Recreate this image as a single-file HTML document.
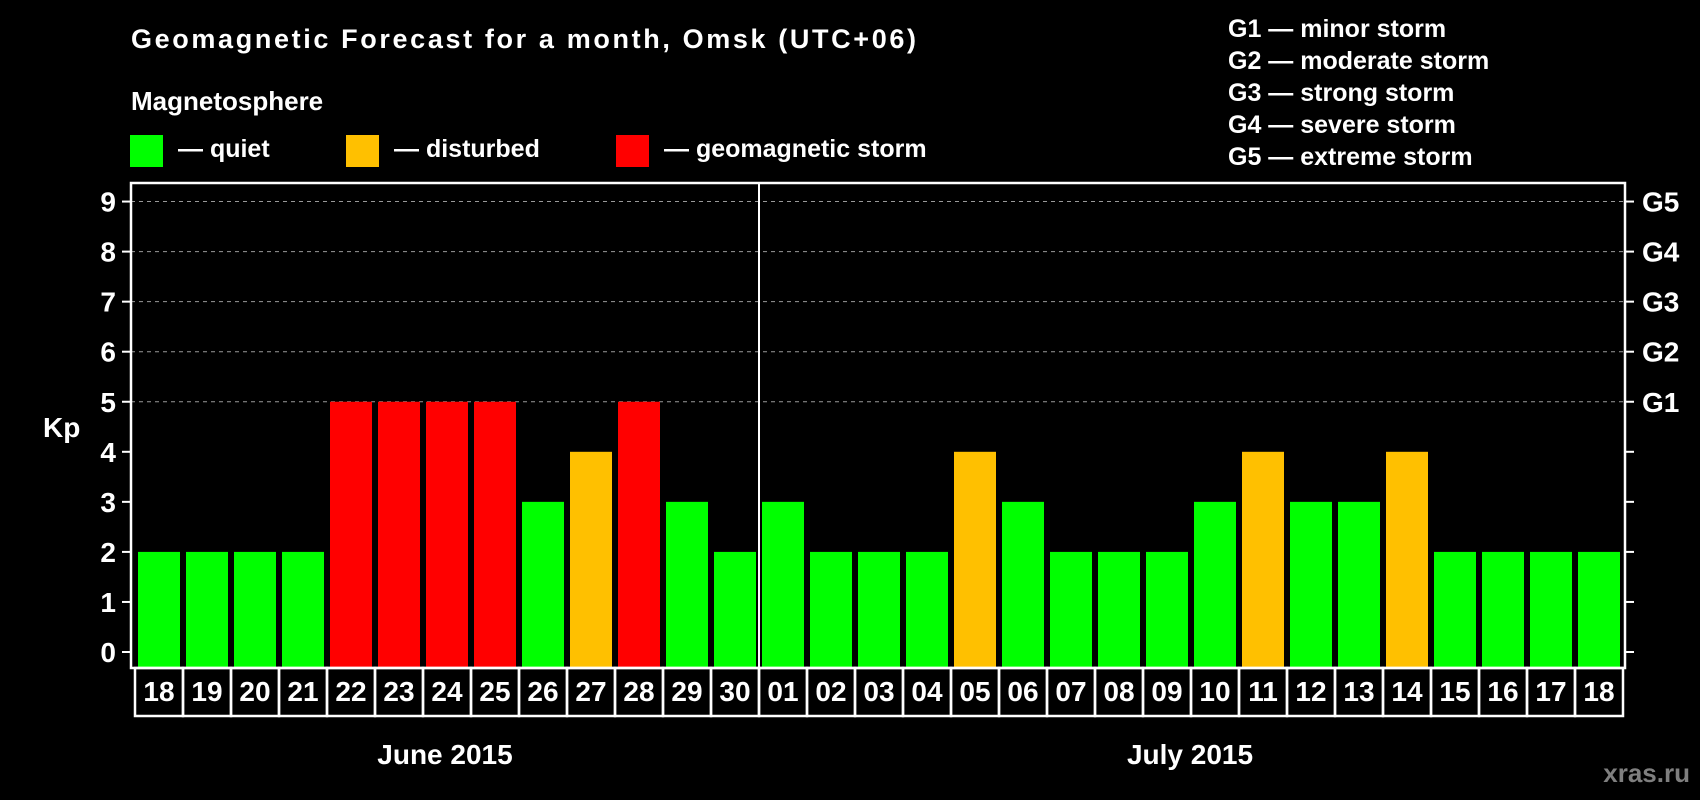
<!DOCTYPE html>
<html><head><meta charset="utf-8"><style>
html,body{margin:0;padding:0;background:#000;width:1700px;height:800px;overflow:hidden}
svg text{font-family:"Liberation Sans",Arial,sans-serif;font-weight:bold;fill:#fff}
</style></head><body>
<svg id="chart" width="1700" height="800" viewBox="0 0 1700 800">
<rect width="1700" height="800" fill="#000"/>
<text x="131" y="48" font-size="27" textLength="785">Geomagnetic Forecast for a month, Omsk (UTC+06)</text>
<text x="131" y="110" font-size="26">Magnetosphere</text>
<g><rect x="130" y="135" width="33" height="32" fill="#00ff00"/><text x="178" y="157" font-size="25">— quiet</text></g>
<g><rect x="346" y="135" width="33" height="32" fill="#ffc000"/><text x="394" y="157" font-size="25">— disturbed</text></g>
<g><rect x="616" y="135" width="33" height="32" fill="#ff0000"/><text x="664" y="157" font-size="25">— geomagnetic storm</text></g>
<g font-size="25">
<text x="1228" y="37">G1 — minor storm</text>
<text x="1228" y="69">G2 — moderate storm</text>
<text x="1228" y="101">G3 — strong storm</text>
<text x="1228" y="133">G4 — severe storm</text>
<text x="1228" y="165">G5 — extreme storm</text>
</g>
<text x="43" y="437" font-size="28">Kp</text>
<g id="grid"></g><g id="bars"></g><g id="axes"></g>
<text x="445" y="764" font-size="28" text-anchor="middle">June 2015</text>
<text x="1190" y="764" font-size="28" text-anchor="middle">July 2015</text>
<text x="1690" y="782" font-size="26" text-anchor="end" style="fill:#7f7f7f">xras.ru</text>
</svg>
<script>
const days = ["18","19","20","21","22","23","24","25","26","27","28","29","30","01","02","03","04","05","06","07","08","09","10","11","12","13","14","15","16","17","18"];
const kpValues = [2,2,2,2,5,5,5,5,3,4,5,3,2,3,2,2,2,4,3,2,2,2,3,4,3,3,4,2,2,2,2];
const yTicks = [0,1,2,3,4,5,6,7,8,9];
const gLabels = ["","","","","","G1","G2","G3","G4","G5"];
const NS="http://www.w3.org/2000/svg";
const L=131,R=1625,T=183,B=668,X0=138,PITCH=48,BW=42;
const y=v=>652-v*50.05;
const x=i=>X0+i*PITCH;
function mk(tag,attrs,parent){const e=document.createElementNS(NS,tag);for(const k in attrs)e.setAttribute(k,attrs[k]);parent.appendChild(e);return e;}
const grid=document.getElementById('grid'),bars=document.getElementById('bars'),axes=document.getElementById('axes');
yTicks.forEach(t=>{
  if(t>=5){const g=mk('line',{x1:L,x2:R,y1:y(t),y2:y(t),stroke:'#999','stroke-dasharray':'4 4','stroke-width':1},grid);
  
  }
  const tl=mk('line',{x1:122,x2:L,y1:y(t),y2:y(t),stroke:'#fff','stroke-width':2},axes);
  
  
  const tr=mk('line',{x1:R,x2:1634,y1:y(t),y2:y(t),stroke:'#fff','stroke-width':2},axes);
  
  
  const lb=mk('text',{x:116,y:y(t)+10,'font-size':28,'text-anchor':'end'},axes);lb.textContent=t;
  
  
  if(gLabels[t]){const gl=mk('text',{x:1642,y:y(t)+10,'font-size':28},axes);gl.textContent=gLabels[t];
  
  }
});
kpValues.forEach((v,i)=>{
  const col=v>=5?'#ff0000':(v>=4?'#ffc000':'#00ff00');
  const b=mk('rect',{x:x(i),y:y(v),width:BW,height:B-y(v),fill:col},bars);
  
  
  const c=mk('rect',{x:x(i)-3,y:B,width:PITCH,height:48,fill:'none',stroke:'#fff','stroke-width':2.5},axes);
  
  
  const t=mk('text',{x:x(i)+BW/2,y:701,'font-size':28,'text-anchor':'middle'},axes);t.textContent=days[i];
  
  
});
const frame=mk('rect',{x:L,y:T,width:R-L,height:B-T,fill:'none',stroke:'#fff','stroke-width':2.5},axes);


const div=mk('line',{x1:x(13)-3,x2:x(13)-3,y1:T,y2:B,stroke:'#fff','stroke-width':2},axes);


</script>
</body></html>
